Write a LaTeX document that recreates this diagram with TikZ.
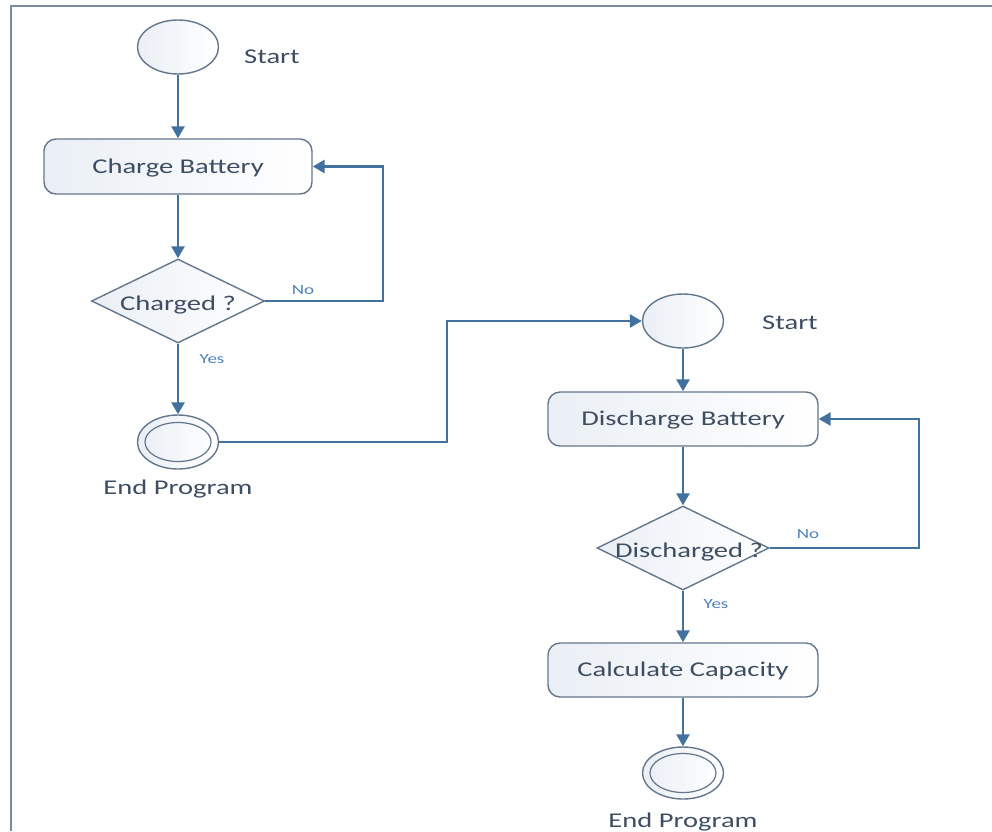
\documentclass[tikz,border=0pt]{standalone}
\usepackage{fontspec}
\setmainfont{Carlito}[FakeStretch=1.36]
\usetikzlibrary{shapes.geometric,arrows.meta}
\definecolor{linecol}{RGB}{65,113,156}
\definecolor{bordercol}{RGB}{100,118,140}
\definecolor{textcol}{RGB}{62,78,98}
\definecolor{labcol}{RGB}{79,129,189}
\definecolor{fillcol}{RGB}{234,239,245}
\definecolor{framecol}{RGB}{120,138,156}
\tikzset{
  conn/.style={draw=linecol, line width=2.7pt, -{Triangle[length=12pt,width=13pt]}},
  shapebase/.style={draw=bordercol, line width=1.4pt, left color=fillcol, right color=white, text=textcol,
    font=\fontsize{21}{25}\selectfont, inner sep=0pt},
  actbox/.style={shapebase, rectangle, rounded corners=12pt, minimum width=268pt, minimum height=55pt},
  startnode/.style={shapebase, ellipse, minimum width=81pt, minimum height=54pt},
  endnode/.style={shapebase, ellipse, minimum width=81pt, minimum height=54pt,
    path picture={\draw[bordercol, line width=1.2pt] (path picture bounding box.center) ellipse (33pt and 19.5pt);}},
  decision/.style={shapebase, diamond, minimum width=173pt, minimum height=84pt},
  caption/.style={text=textcol, font=\fontsize{21}{25}\selectfont, inner sep=0pt},
  edgelab/.style={text=labcol, font=\fontsize{14}{16}\selectfont, inner sep=0pt}
}
\newcommand{\basetext}[2]{\makebox[0pt]{\raisebox{-#1}[0pt][0pt]{#2}}}
\begin{document}
\begin{tikzpicture}[x=1pt, y=-1pt]
\useasboundingbox (0,0) rectangle (992,831);
\draw[framecol, line width=2pt] (11,831) -- (11,6) -- (992,6);

% left column
\node[startnode] (s1) at (178,47) {};
\node[caption] (s1lab) at (272,57) {Start};
\node[actbox] (charge) at (178,166.5) {\basetext{7pt}{Charge Battery}};
\node[decision] (charged) at (178,301) {\basetext{9pt}{Charged ?}};
\node[endnode] (e1) at (178,442) {};
\node[caption] (e1lab) at (178,489) {End Program};

% right column
\node[startnode] (s2) at (683,321) {};
\node[caption] (s2lab) at (790,323) {Start};
\node[actbox, minimum width=270pt, minimum height=54pt] (discharge) at (683,419) {\basetext{6.5pt}{Discharge Battery}};
\node[decision, minimum width=172pt] (discharged) at (683,548) {\basetext{9.5pt}{\hspace{12pt}Discharged ?}};
\node[actbox, minimum width=270pt, minimum height=54pt] (calc) at (683,670) {\basetext{6.5pt}{Calculate Capacity}};
\node[endnode, minimum height=52pt] (e2) at (683,773) {};
\node[caption] (e2lab) at (683,822) {End Program};

\coordinate (c1) at (383,301);
\coordinate (c2) at (383,166.5);
\coordinate (c3) at (447,442);
\coordinate (c4) at (447,321);
\coordinate (c5) at (919,548);
\coordinate (c6) at (919,419);

\draw[conn] (s1) -- (charge);
\draw[conn] (charge) -- (charged);
\draw[conn] (charged.east) -- (c1) -- (c2) -- (charge.east);
\draw[conn] (charged) -- (e1);
\draw[conn] (e1.east) -- (c3) -- (c4) -- (s2.west);
\draw[conn] (s2) -- (discharge);
\draw[conn] (discharge) -- (discharged);
\draw[conn] (discharged.east) -- (c5) -- (c6) -- (discharge.east);
\draw[conn] (discharged) -- (calc);
\draw[conn] (calc) -- (e2);

\node[edgelab] (no1) at (303,290) {No};
\node[edgelab] (yes1) at (212,359) {Yes};
\node[edgelab] (no2) at (808,534) {No};
\node[edgelab] (yes2) at (716,604) {Yes};
\end{tikzpicture}
\end{document}
